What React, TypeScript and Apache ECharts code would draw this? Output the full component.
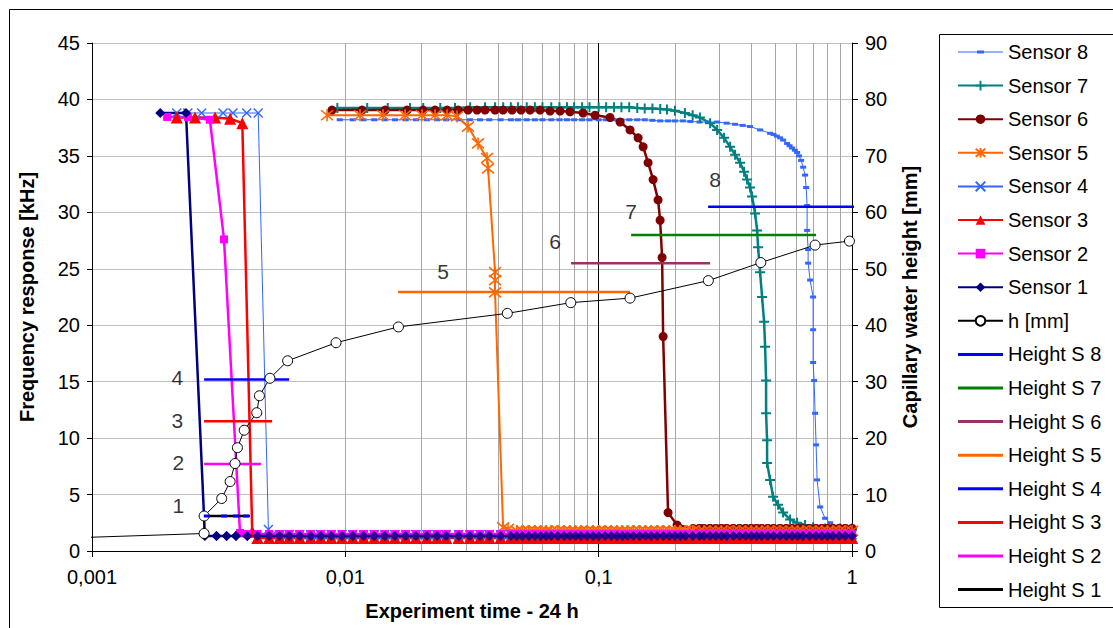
import React, { useEffect, useRef } from "react";
import * as echarts from "echarts";

// ---------- DATA ----------
const xTickLabels = ["0,001", "0,01", "0,1", "1"];
const minorGridTimes = [
  0.002, 0.003, 0.004, 0.005, 0.006, 0.007, 0.008, 0.009,
  0.02, 0.03, 0.04, 0.05, 0.06, 0.07, 0.08, 0.09,
  0.2, 0.3, 0.4, 0.5, 0.6, 0.7, 0.8, 0.9,
];

// sampling times of the flat tail after each sensor has dropped (day fraction)
const baseTimes = [
  0.0028, 0.0031, 0.0034, 0.0037, 0.0041, 0.0045, 0.005, 0.0055, 0.006, 0.0066,
  0.0073, 0.008, 0.0088, 0.0097, 0.0107, 0.0118, 0.013, 0.0143, 0.0157, 0.0173,
  0.019, 0.021, 0.023, 0.025, 0.028, 0.031, 0.034, 0.037, 0.041, 0.045, 0.0475,
  0.05, 0.053, 0.056, 0.059, 0.062, 0.065, 0.069, 0.073, 0.077, 0.081, 0.085,
  0.09, 0.095, 0.1, 0.106, 0.112, 0.118, 0.124, 0.13, 0.137, 0.145, 0.153, 0.161,
  0.17, 0.18, 0.19, 0.2, 0.21, 0.22, 0.235, 0.25, 0.26, 0.275, 0.29, 0.305, 0.32,
  0.34, 0.36, 0.38, 0.4, 0.42, 0.44, 0.465, 0.49, 0.52, 0.55, 0.58, 0.61, 0.64,
  0.68, 0.72, 0.76, 0.8, 0.84, 0.89, 0.94, 1.0,
];
// tail level (kHz) of Sensor 1 .. Sensor 8
const tailLevels = [1.32, 1.5, 1.15, 1.45, 1.78, 2.0, 2.0, 2.0];

const sensor1 = [[0.00186, 38.8], [0.00235, 38.8], [0.00279, 1.32]];
const sensor2 = [[0.00198, 38.45], [0.00239, 38.45], [0.00292, 38.2], [0.00332, 27.6], [0.00384, 1.6]];
const sensor3 = [[0.00216, 38.4], [0.00255, 38.4], [0.00306, 38.4], [0.00351, 38.3], [0.00392, 37.9], [0.00429, 1.7]];
const sensor4 = [
  [0.00216, 38.8], [0.00239, 38.8], [0.00271, 38.8], [0.00329, 38.8], [0.0036, 38.8],
  [0.00408, 38.8], [0.00453, 38.8], [0.00497, 1.9],
];
const sensor5 = [
  [0.00847, 38.6], [0.01143, 38.6], [0.01409, 38.6], [0.01721, 38.6], [0.02008, 38.6],
  [0.02261, 38.6], [0.02521, 38.6], [0.02761, 38.5], [0.03051, 37.6], [0.03341, 36.1],
  [0.03626, 34.8], [0.03659, 33.9], [0.039, 24.7], [0.039, 24.0], [0.039, 22.9],
  [0.04195, 2.1], [0.04388, 1.95],
];
const sensor6 = [
  [0.00886, 39.06], [0.01164, 39.06], [0.01435, 39.06], [0.01752, 39.06], [0.02027, 39.06],
  [0.02261, 39.06], [0.02521, 39.06], [0.02786, 39.06], [0.03051, 39.06], [0.03311, 39.06],
  [0.03561, 39.06], [0.039, 39.06], [0.04195, 39.06], [0.04551, 39.06], [0.04938, 39.06],
  [0.05359, 39.06], [0.0587, 39.06], [0.06429, 38.97], [0.07041, 38.97], [0.07712, 38.9],
  [0.08679, 38.8], [0.09678, 38.6], [0.1109, 38.4], [0.1215, 38.0], [0.133, 37.3],
  [0.1431, 36.6], [0.1498, 35.8], [0.1567, 34.4], [0.164, 32.9], [0.1716, 31.1],
  [0.1748, 29.3], [0.178, 26.0], [0.1797, 19.0], [0.1879, 3.4], [0.204, 2.3], [0.2359, 2.0],
];
const sensor7 = [
  [0.0093, 39.25], [0.0122, 39.25], [0.0147, 39.25], [0.018, 39.25], [0.0203, 39.25],
  [0.0237, 39.25], [0.0271, 39.25], [0.0311, 39.3], [0.0356, 39.3], [0.039, 39.3],
  [0.042, 39.3], [0.045, 39.3], [0.048, 39.3], [0.052, 39.3], [0.056, 39.3], [0.06, 39.3],
  [0.065, 39.3], [0.07, 39.3], [0.075, 39.3], [0.08, 39.3], [0.086, 39.3], [0.092, 39.3],
  [0.1, 39.3], [0.107, 39.3], [0.115, 39.3], [0.123, 39.3], [0.132, 39.3], [0.142, 39.25],
  [0.152, 39.2], [0.163, 39.2], [0.175, 39.15], [0.186, 39.1], [0.2, 39.0], [0.219, 38.8],
  [0.235, 38.6], [0.251, 38.4], [0.2754, 37.9], [0.2935, 37.3], [0.3127, 36.6],
  [0.3302, 35.8], [0.3455, 35.1], [0.3616, 34.4], [0.375, 33.6], [0.3854, 32.9],
  [0.396, 32.2], [0.4033, 31.4], [0.4145, 29.9], [0.4221, 28.4], [0.4259, 26.9],
  [0.4337, 24.7], [0.4416, 22.5], [0.4498, 20.3], [0.4539, 18.1], [0.458, 15.1],
  [0.458, 12.2], [0.4622, 9.8], [0.4622, 7.8], [0.475, 6.3], [0.4881, 4.8], [0.5108, 4.1],
  [0.5346, 3.4], [0.5696, 2.8], [0.6072, 2.5], [0.6528, 2.3], [0.7022, 2.1], [0.7831, 2.0],
  [0.8975, 2.0], [1.0, 2.0],
];
const sensor8 = [
  [0.0095, 38.2], [0.0107, 38.2], [0.0118, 38.2], [0.013, 38.2], [0.0143, 38.2],
  [0.0157, 38.2], [0.0173, 38.2], [0.019, 38.2], [0.021, 38.2], [0.023, 38.2], [0.025, 38.2],
  [0.028, 38.2], [0.031, 38.2], [0.034, 38.2], [0.037, 38.2], [0.041, 38.2], [0.045, 38.2],
  [0.048, 38.2], [0.052, 38.2], [0.056, 38.2], [0.06, 38.2], [0.065, 38.2], [0.07, 38.2],
  [0.075, 38.2], [0.08, 38.2], [0.086, 38.2], [0.092, 38.2], [0.1, 38.2], [0.107, 38.2],
  [0.115, 38.2], [0.123, 38.2], [0.132, 38.2], [0.142, 38.2], [0.152, 38.2], [0.163, 38.15],
  [0.175, 38.1], [0.188, 38.1], [0.2, 38.1], [0.215, 38.1], [0.23, 38.05], [0.25, 38.0],
  [0.27, 38.0], [0.2935, 38.0], [0.32, 37.9], [0.3455, 37.8], [0.37, 37.7], [0.396, 37.6],
  [0.4337, 37.3], [0.475, 37.0], [0.49, 36.9], [0.505, 36.75], [0.5203, 36.6], [0.535, 36.4],
  [0.5544, 36.1], [0.567, 35.9], [0.5801, 35.7], [0.595, 35.5], [0.6073, 35.3], [0.618, 35.0],
  [0.6297, 34.6], [0.6413, 34.0], [0.653, 33.3], [0.659, 32.2], [0.665, 30.6], [0.665, 28.4],
  [0.6711, 26.7], [0.6711, 25.5], [0.6834, 24.0], [0.7022, 22.5], [0.7022, 19.6],
  [0.7022, 16.7], [0.7086, 15.1], [0.7151, 12.2], [0.7216, 9.4], [0.7282, 6.3],
  [0.7484, 3.9], [0.7831, 2.9], [0.8196, 2.5], [0.8975, 2.1], [1.0, 2.0],
];

// capillary water height h [mm] vs time
const hPoints = [
  [0.00043, 1.9], [0.00277, 3.1], [0.00277, 6.2], [0.00325, 9.3], [0.00351, 12.3],
  [0.00367, 15.5], [0.00375, 18.3], [0.00399, 21.4], [0.00447, 24.5], [0.00458, 27.5],
  [0.00504, 30.6], [0.00592, 33.7], [0.00919, 36.9], [0.0162, 39.7], [0.0436, 42.1],
  [0.0776, 44.0], [0.133, 44.8], [0.271, 47.9], [0.4365, 51.1], [0.715, 54.2],
  [0.977, 54.9], [1.08, 57.0],
];

// height of sensor S1..S8 [mm] and the time span of its marker line
const sensorHeights = [6.2, 15.4, 23.0, 30.4, 45.9, 51.0, 56.0, 61.0];
const heightStart = [0.00277, 0.00277, 0.00277, 0.00277, 0.01615, 0.0778, 0.1343, 0.2704];
const heightEnd = [0.0042, 0.00465, 0.00514, 0.006, 0.133, 0.2754, 0.7215, 1.07];
const heightS1Marks = [0.00284, 0.00332, 0.0037, 0.00406];

// numbered annotations 1..8 (time, mm)
const gaugeLabels = ["1", "2", "3", "4", "5", "6", "7", "8"];
const labelTimes = [0.00219, 0.00219, 0.00217, 0.00217, 0.0243, 0.0673, 0.1343, 0.2883];
const labelHeights = [8.1, 15.6, 23.2, 30.8, 49.6, 54.9, 60.2, 65.9];

// ---------- STYLE ----------
const FONT = "'Liberation Sans', Arial, Helvetica, sans-serif";
const sensorColors = ["#000080", "#ff00ff", "#ff0000", "#3366ff", "#ff6600", "#800000", "#008080", "#3366ff"];
const heightColors = ["#000000", "#ff00ff", "#ff0000", "#0000ff", "#ff6600", "#993366", "#008000", "#0000ff"];

const plusPath = "path://M0,4h10v2h-10z M4,0h2v10h-2z";
const asteriskPath = "path://M1,1L11,11M11,1L1,11M6,0L6,12";
const crossPath = "path://M0,0L10,10M10,0L0,10";
const dashPath = "path://M0,0h6v3h-6z";
const barIcon = "path://M0,0h45v3h-45z";
const s8Icon = "path://M0,1h45v1h-45z M19,0h7v3h-7z";

function tailOf(curve: number[][], level: number) {
  const last = curve[curve.length - 1][0];
  return baseTimes.filter((t) => t > last * 1.03).map((t) => [t, level]);
}

function buildOption() {
  const sensorDefs = [
    { idx: 7, name: "Sensor 8", data: sensor8, symbol: dashPath, size: [6, 3], width: 1, stroke: 0 },
    { idx: 6, name: "Sensor 7", data: sensor7, symbol: plusPath, size: 10, width: 2.5, stroke: 0 },
    { idx: 5, name: "Sensor 6", data: sensor6, symbol: "circle", size: 9, width: 2.5, stroke: 0 },
    { idx: 4, name: "Sensor 5", data: sensor5, symbol: asteriskPath, size: 12, width: 2, stroke: 1.6 },
    { idx: 3, name: "Sensor 4", data: sensor4, symbol: crossPath, size: 9, width: 1, stroke: 1.4 },
    { idx: 2, name: "Sensor 3", data: sensor3, symbol: "triangle", size: 12, width: 2.5, stroke: 0 },
    { idx: 1, name: "Sensor 2", data: sensor2, symbol: "rect", size: 8, width: 2.5, stroke: 0 },
    { idx: 0, name: "Sensor 1", data: sensor1, symbol: "diamond", size: 10, width: 2.5, stroke: 0 },
  ];

  const series: any[] = [];

  // minor vertical grid lines of the log axis
  series.push({
    type: "line",
    name: "grid",
    data: [[0.001, 0]],
    symbol: "none",
    lineStyle: { width: 0, opacity: 0 },
    silent: true,
    markLine: {
      silent: true,
      z: 1,
      symbol: ["none", "none"],
      label: { show: false },
      lineStyle: { color: "#a6a6a6", width: 1, type: "solid" },
      emphasis: { disabled: true },
      data: minorGridTimes.map((t) => ({ xAxis: t })),
    },
  });

  sensorDefs.forEach((d) => {
    const c = sensorColors[d.idx];
    const tail = tailOf(d.data, tailLevels[d.idx]);
    const itemStyle = d.stroke
      ? { color: c, borderColor: c, borderWidth: d.stroke }
      : { color: c, borderWidth: 0 };
    series.push({
      type: "line",
      name: d.name,
      data: [...d.data, ...tail],
      symbol: d.symbol,
      symbolSize: d.size,
      showSymbol: true,
      showAllSymbol: true,
      lineStyle: { color: c, width: d.width },
      itemStyle,
      emphasis: { disabled: true },
    });
    if (tail.length) {
      // markers of the flat tail readings, drawn above all the lines
      series.push({
        type: "scatter",
        name: d.name + " readings",
        data: tail,
        symbol: d.symbol,
        symbolSize: d.size,
        z: 3 + (7 - d.idx) * 0.01,
        itemStyle,
        silent: true,
        emphasis: { disabled: true },
      });
    }
  });

  series.push({
    type: "line",
    name: "h [mm]",
    yAxisIndex: 1,
    clip: false,
    z: 4,
    data: hPoints.map((p, i) =>
      i === 0 || i === hPoints.length - 1 ? { value: p, symbol: "none" } : p
    ),
    symbol: "circle",
    symbolSize: 10,
    showAllSymbol: true,
    lineStyle: { color: "#000", width: 1 },
    itemStyle: { color: "#fff", borderColor: "#000", borderWidth: 1 },
    emphasis: { disabled: true },
  });

  for (let k = 7; k >= 0; k--) {
    const c = heightColors[k];
    const pts =
      k === 0
        ? [
            { value: [heightStart[0], sensorHeights[0]], symbol: "none" },
            ...heightS1Marks.map((t) => [t, sensorHeights[0]]),
            { value: [heightEnd[0], sensorHeights[0]], symbol: "none" },
          ]
        : [
            [heightStart[k], sensorHeights[k]],
            [heightEnd[k], sensorHeights[k]],
          ];
    series.push({
      type: "line",
      name: "Height S " + (k + 1),
      yAxisIndex: 1,
      clip: false,
      z: 4,
      data: pts,
      symbol: k === 0 ? dashPath : "none",
      symbolSize: [6, 3],
      showAllSymbol: true,
      lineStyle: { color: c, width: 2.5 },
      itemStyle: { color: k === 0 ? "#0000ff" : c },
      emphasis: { disabled: true },
    });
  }

  series.push({
    type: "scatter",
    name: "labels",
    yAxisIndex: 1,
    silent: true,
    z: 5,
    symbolSize: 1,
    itemStyle: { color: "rgba(0,0,0,0)" },
    label: {
      show: true,
      position: "inside",
      formatter: "{b}",
      color: "#000",
      fontSize: 21,
      fontFamily: FONT,
    },
    data: labelTimes.map((t, i) => ({ name: gaugeLabels[i], value: [t, labelHeights[i]] })),
  });

  const legendData: any[] = [
    { name: "Sensor 8", icon: s8Icon },
    "Sensor 7",
    "Sensor 6",
    "Sensor 5",
    "Sensor 4",
    "Sensor 3",
    "Sensor 2",
    "Sensor 1",
    "h [mm]",
  ];
  for (let k = 7; k >= 0; k--) {
    legendData.push(
      k === 0
        ? { name: "Height S 1", icon: barIcon, itemStyle: { color: "#000000" } }
        : { name: "Height S " + (k + 1), icon: barIcon }
    );
  }

  return {
    animation: false,
    backgroundColor: "#fff",
    textStyle: { fontFamily: FONT, color: "#000" },
    graphic: [
      {
        type: "rect",
        silent: true,
        shape: { x: 9.5, y: 9.5, width: 1130, height: 640 },
        style: { fill: "none", stroke: "#000", lineWidth: 1 },
      },
      {
        type: "rect",
        silent: true,
        shape: { x: 939.5, y: 34.5, width: 300, height: 573 },
        style: { fill: "none", stroke: "#000", lineWidth: 1 },
      },
    ],
    legend: {
      data: legendData,
      orient: "vertical",
      left: 939,
      top: 34,
      padding: [8, 10, 8, 18],
      itemWidth: 45,
      itemHeight: 12,
      itemGap: 13.6,
      borderWidth: 0,
      selectedMode: false,
      textStyle: { fontSize: 20, lineHeight: 20, color: "#000", fontFamily: FONT },
    },
    grid: { left: 92, right: 261, top: 43, bottom: 77 },
    xAxis: {
      type: "log",
      logBase: 10,
      min: 0.001,
      max: 1,
      name: "Experiment time - 24 h",
      nameLocation: "middle",
      nameGap: 50,
      nameTextStyle: { fontSize: 20, fontWeight: "bold", color: "#000", fontFamily: FONT },
      axisLine: { show: true, onZero: false, lineStyle: { color: "#000", width: 1 } },
      axisTick: { show: true, length: 6, lineStyle: { color: "#000" } },
      axisLabel: {
        fontSize: 20,
        color: "#000",
        margin: 16,
        fontFamily: FONT,
        formatter: (v: number) => xTickLabels[Math.round(Math.log10(v)) + 3] ?? "",
      },
      splitLine: { show: true, lineStyle: { color: "#000", width: 1 } },
      minorTick: { show: false },
    },
    yAxis: [
      {
        type: "value",
        min: 0,
        max: 45,
        interval: 5,
        position: "left",
        name: "Frequency response [kHz]",
        nameLocation: "middle",
        nameGap: 55,
        nameRotate: 90,
        nameTextStyle: { fontSize: 20, fontWeight: "bold", color: "#000", fontFamily: FONT },
        axisLine: { show: true, lineStyle: { color: "#000", width: 1 } },
        axisTick: { show: true, length: 5, lineStyle: { color: "#000" } },
        axisLabel: { fontSize: 20, color: "#000", margin: 12, fontFamily: FONT },
        splitLine: { show: true, lineStyle: { color: "#c0c0c0", width: 1 } },
      },
      {
        type: "value",
        min: 0,
        max: 90,
        interval: 10,
        position: "right",
        name: "Capillary water height [mm]",
        nameLocation: "middle",
        nameGap: 48,
        nameRotate: 90,
        nameTextStyle: { fontSize: 20, fontWeight: "bold", color: "#000", fontFamily: FONT },
        axisLine: { show: true, lineStyle: { color: "#000", width: 1 } },
        axisTick: { show: true, length: 6, lineStyle: { color: "#000" } },
        axisLabel: { fontSize: 20, color: "#000", margin: 13, fontFamily: FONT },
        splitLine: { show: false },
      },
    ],
    series,
  };
}

export default function App() {
  const ref = useRef<HTMLDivElement>(null);
  useEffect(() => {
    if (!ref.current) return;
    const chart = echarts.init(ref.current, undefined, { renderer: "svg" });
    chart.setOption(buildOption() as any);
    return () => chart.dispose();
  }, []);
  return (
    <div
      ref={ref}
      style={{ position: "absolute", left: 0, top: 0, width: 1113, height: 628, background: "#fff" }}
    />
  );
}
